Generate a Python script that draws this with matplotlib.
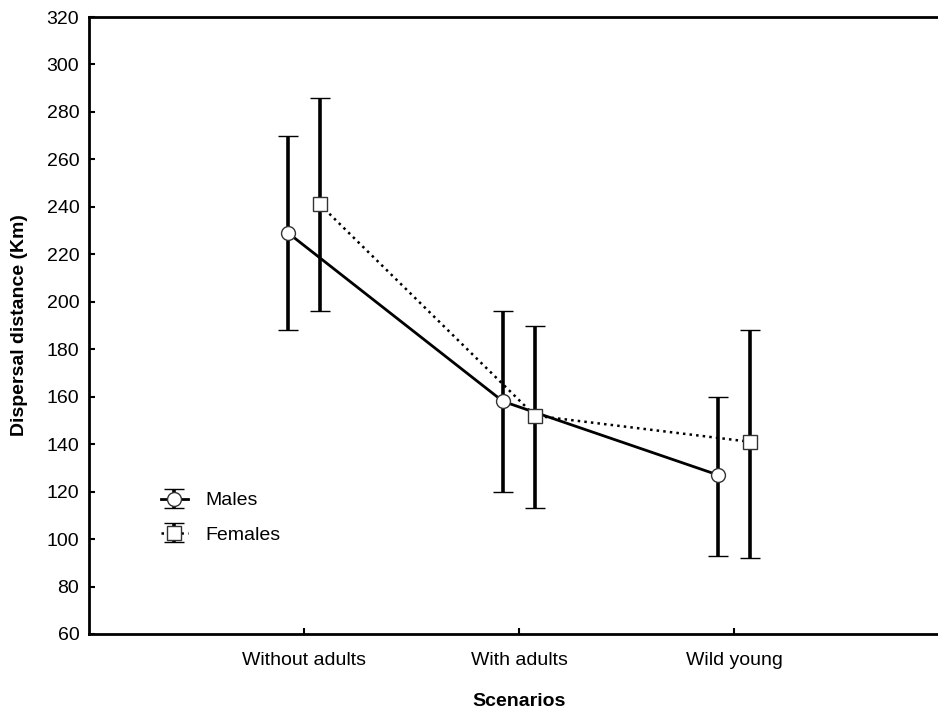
import matplotlib
matplotlib.use("Agg")
import matplotlib.pyplot as plt
import numpy as np

plt.rcParams['font.family'] = ['Liberation Sans', 'DejaVu Sans']

scenarios = ["Without adults", "With adults", "Wild young"]

males_mean = [229, 158, 127]
males_low = [188, 120, 93]
males_high = [270, 196, 160]

females_mean = [241, 152, 141]
females_low = [196, 113, 92]
females_high = [286, 190, 188]

yticks = list(range(60, 321, 20))

fig = plt.figure(figsize=(9.38, 7.13), dpi=100)
W, H = 938, 713
left, right, top, bottom = 89, 949, 17, 634
ax = fig.add_axes([left / W, 1 - bottom / H, (right - left) / W, (bottom - top) / H])

x = np.arange(1, len(scenarios) + 1)
off = 0.074
FS = 14

def draw(xs, mean, low, high, ls, lw, marker, label):
    mean = np.array(mean)
    yerr = [mean - np.array(low), np.array(high) - mean]
    return ax.errorbar(xs, mean, yerr=yerr, fmt=marker, color='black',
                       linestyle=ls, linewidth=lw, elinewidth=2.6, capsize=7.5,
                       capthick=2.6, markersize=10, markerfacecolor='white',
                       markeredgecolor='#333333', markeredgewidth=1.0,
                       label=label, zorder=3)

h1 = draw(x - off, males_mean, males_low, males_high, '-', 2.0, 'o', 'Males')
h2 = draw(x + off, females_mean, females_low, females_high, ':', 1.8, 's', 'Females')

ax.set_xlim(0, 4)
ax.set_ylim(60, 320)
ax.set_xticks(x)
ax.set_xticklabels(scenarios)
ax.set_yticks(yticks)
ax.tick_params(direction='in', length=4, width=1.5, labelsize=FS)
ax.tick_params(axis='x', pad=13)
ax.tick_params(axis='y', pad=7)
for s in ax.spines.values():
    s.set_linewidth(2)

ax.set_xlabel("Scenarios", fontsize=FS, fontweight='bold', labelpad=17)
ax.set_ylabel("Dispersal distance (Km)", fontsize=FS, fontweight='bold', labelpad=13)

leg = ax.legend(handles=[h1, h2], loc='upper left',
                bbox_to_anchor=((153 - left) / (right - left), 1 - (484 - top) / (bottom - top)),
                frameon=False, fontsize=FS, handlelength=1.4, handletextpad=0.9,
                labelspacing=0.85, borderaxespad=0)

fig.savefig("out.png", dpi=100)
